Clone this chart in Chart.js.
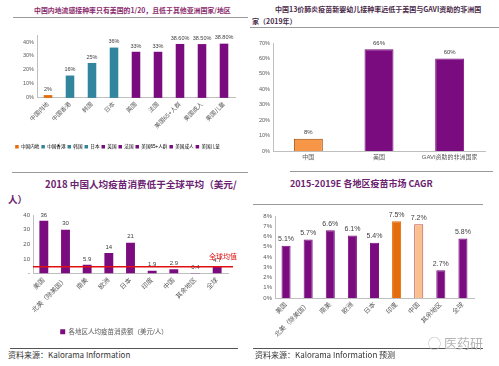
<!DOCTYPE html>
<html>
<head>
<meta charset="utf-8">
<script src="https://cdn.jsdelivr.net/npm/chart.js@4"></script>
<style>
  body { margin: 0; background: #fff; }
  #wrap { position: relative; width: 499px; height: 366px; overflow: hidden; font-family: 'Noto Sans CJK SC', sans-serif; }
  .abs { position: absolute; white-space: nowrap; }
  .hl { position: absolute; height: 1px; background: #9a9a9a; }
  canvas { position: absolute; }
</style>
</head>
<body>
<div id="wrap">
  <!-- top left -->
  <div class="abs" style="left:34px;top:5px;font-size:6.9px;font-weight:bold;color:#8a2b6c;">中国内地流感接种率只有美国的1/20，且低于其他亚洲国家/地区</div>
  <div class="hl" style="left:13px;top:17px;width:235px;"></div>
  <canvas id="c1" width="248" height="134" style="left:0;top:25px"></canvas>
  <div class="hl" style="left:12px;top:172px;width:236px;"></div>

  <!-- top right -->
  <div class="abs" style="left:275px;top:4px;font-size:7px;font-weight:bold;color:#4a2b4a;">中国13价肺炎疫苗新婴幼儿接种率远低于美国与GAVI资助的非洲国</div>
  <div class="abs" style="left:252px;top:16px;font-size:7px;font-weight:bold;color:#4a2b4a;">家（2019年）</div>
  <div class="hl" style="left:250px;top:27px;width:249px;"></div>
  <canvas id="c2" width="249" height="135" style="left:250px;top:32px"></canvas>
  <div class="hl" style="left:290px;top:171px;width:203px;"></div>

  <!-- bottom left -->
  <div class="abs" style="left:45px;top:177px;font-size:9.6px;font-weight:bold;color:#6b2270;">2018 中国人均疫苗消费低于全球平均（美元/</div>
  <div class="abs" style="left:8px;top:192px;font-size:9.6px;font-weight:bold;color:#6b2270;">人）</div>
  <canvas id="c3" width="248" height="140" style="left:0;top:205px"></canvas>
  <div class="hl" style="left:10px;top:348px;width:228px;background:#555;"></div>
  <div class="abs" style="left:8px;top:349px;font-size:8px;color:#333;">资料来源：Kalorama Information</div>

  <!-- bottom right -->
  <div class="abs" style="left:290px;top:177px;font-size:9px;font-weight:bold;color:#6b2270;">2015-2019E 各地区疫苗市场 CAGR</div>
  <div class="hl" style="left:253px;top:204px;width:230px;"></div>
  <canvas id="c4" width="249" height="140" style="left:250px;top:205px"></canvas>
  <div class="hl" style="left:253px;top:348px;width:230px;background:#555;"></div>
  <div class="abs" style="left:255px;top:349px;font-size:8px;color:#333;">资料来源：Kalorama Information 预测</div>
  <div class="abs" style="left:428px;top:333px;font-size:13px;color:#b5b5b5;">&#9711; 医药研</div>
</div>

<script>
// top left: flu vaccination rate
var catsTL = ['中国内地', '中国香港', '韩国', '日本', '英国', '法国', '美国65+人群', '美国成人', '美国儿童'];
var valsTL = [2, 16, 25, 36, 33, 33, 38.6, 38.5, 38.8];

// top right: PCV13 infant rate, 2019
var catsTR = ['中国', '美国', 'GAVI资助的非洲国家'];
var valsTR = [8, 66, 60];

// bottom left: vaccine spend per capita 2018 (USD)
var catsBL = ['美国', '北美（除美国）', '南美', '欧洲', '日本', '印度', '中国', '其余地区', '全球'];
var valsBL = [36, 30, 5.9, 14, 21, 1.9, 2.9, 0.4, 4.7];
var globalAvg = 4.7;

// bottom right: 2015-2019E CAGR
var catsBR = ['美国', '北美（除美国）', '南美', '欧洲', '日本', '印度', '中国', '其余地区', '全球'];
var valsBR = [5.1, 5.7, 6.6, 6.1, 5.4, 7.5, 7.2, 2.7, 5.8];

var PURPLE = '#7b0c7f', TEAL = '#31859c', ORANGE = '#e46c0a';
var FONT = "'Liberation Sans', 'Noto Sans CJK SC', sans-serif";

Chart.defaults.font.family = FONT;
Chart.defaults.color = '#595959';
Chart.defaults.animation = false;

var colorsTL = [ORANGE, TEAL, TEAL, TEAL, PURPLE, PURPLE, PURPLE, PURPLE, PURPLE];

function valueLabels(fmt, size, color) {
  return {
    id: 'valueLabels',
    afterDatasetsDraw: function (chart) {
      var ctx = chart.ctx;
      var meta = chart.getDatasetMeta(0);
      var data = chart.data.datasets[0].data;
      ctx.save();
      ctx.font = size + 'px ' + FONT;
      ctx.fillStyle = color || '#404040';
      ctx.textAlign = 'center';
      ctx.textBaseline = 'bottom';
      meta.data.forEach(function (bar, i) {
        ctx.fillText(fmt(data[i]), bar.x, bar.y - 3);
      });
      ctx.restore();
    }
  };
}

function yAxis(max, step, width, cb, size) {
  return {
    min: 0, max: max,
    afterFit: function (s) { s.width = width; },
    grid: { display: false, drawTicks: false },
    border: { display: true, color: '#bfbfbf' },
    ticks: { stepSize: step, padding: 3, font: { size: size || 6 }, callback: cb }
  };
}

function xAxis(height, rot, size) {
  return {
    afterFit: function (s) { s.height = height; },
    grid: { display: false, drawTicks: false },
    border: { display: true, color: '#bfbfbf' },
    ticks: { autoSkip: false, minRotation: rot, maxRotation: rot, padding: 3, font: { size: size || 6 } }
  };
}

// chart 1
new Chart(document.getElementById('c1'), {
  type: 'bar',
  data: {
    labels: catsTL,
    datasets: [{ data: valsTL, backgroundColor: colorsTL, barPercentage: 0.39, categoryPercentage: 1 }]
  },
  options: {
    responsive: false,
    devicePixelRatio: 1,
    layout: { padding: { top: 10, right: 13 } },
    scales: {
      x: xAxis(44.5, 45, 6),
      y: yAxis(45, 5, 37, function (v) { return v + '%'; }, 5.5)
    },
    plugins: {
      tooltip: { enabled: false },
      legend: {
        position: 'bottom',
        onClick: null,
        labels: {
          boxWidth: 3.5, boxHeight: 3.5, padding: 2,
          font: { size: 4.6 },
          generateLabels: function (chart) {
            return chart.data.labels.map(function (l, i) {
              return { text: l, fillStyle: colorsTL[i], strokeStyle: colorsTL[i], lineWidth: 0, hidden: false, index: i };
            });
          }
        }
      }
    }
  },
  plugins: [valueLabels(function (v) { return Number.isInteger(v) ? v + '%' : v.toFixed(2) + '%'; }, 5.5)]
});

// chart 2
new Chart(document.getElementById('c2'), {
  type: 'bar',
  data: {
    labels: catsTR,
    datasets: [{
      data: valsTR,
      backgroundColor: ['#f79646', PURPLE, PURPLE],
      borderColor: ['#984807', PURPLE, PURPLE],
      borderWidth: 1,
      barPercentage: 0.41, categoryPercentage: 1
    }]
  },
  options: {
    responsive: false,
    devicePixelRatio: 1,
    layout: { padding: { top: 11, right: 14 } },
    scales: {
      x: xAxis(16, 0, 6),
      y: yAxis(70, 10, 23, function (v) { return v + '%'; }, 5.5)
    },
    plugins: { tooltip: { enabled: false }, legend: { display: false } }
  },
  plugins: [valueLabels(function (v) { return v + '%'; }, 6)]
});

// chart 3
var avgLine = {
  id: 'avgLine',
  afterDatasetsDraw: function (chart) {
    var ctx = chart.ctx, a = chart.chartArea;
    var y = chart.scales.y.getPixelForValue(globalAvg);
    ctx.save();
    ctx.strokeStyle = '#e01010';
    ctx.lineWidth = 1.5;
    ctx.beginPath();
    ctx.moveTo(a.left, y);
    ctx.lineTo(a.right + 5, y);
    ctx.stroke();
    ctx.fillStyle = '#e01010';
    ctx.font = '7px ' + FONT;
    ctx.textAlign = 'right';
    ctx.textBaseline = 'bottom';
    ctx.fillText('全球均值', a.right + 9, y - 6);
    ctx.restore();
  }
};

new Chart(document.getElementById('c3'), {
  type: 'bar',
  data: {
    labels: catsBL,
    datasets: [{
      label: '各地区人均疫苗消费额（美元/人）',
      data: valsBL, backgroundColor: PURPLE,
      barPercentage: 0.41, categoryPercentage: 1
    }]
  },
  options: {
    responsive: false,
    devicePixelRatio: 1,
    layout: { padding: { top: 10, right: 20 } },
    scales: {
      x: xAxis(52, 45, 6.5),
      y: yAxis(40, 5, 33, function (v) { return v === 0 ? '-' : v; }, 6)
    },
    plugins: {
      tooltip: { enabled: false },
      legend: {
        position: 'bottom',
        onClick: null,
        labels: { boxWidth: 5, boxHeight: 5, padding: 3, font: { size: 6.5 } }
      }
    }
  },
  plugins: [valueLabels(function (v) { return String(v); }, 6), avgLine]
});

// chart 4
var colorsBR = [PURPLE, PURPLE, PURPLE, PURPLE, PURPLE, ORANGE, '#fac090', PURPLE, PURPLE];
new Chart(document.getElementById('c4'), {
  type: 'bar',
  data: {
    labels: catsBR,
    datasets: [{
      data: valsBR,
      backgroundColor: colorsBR,
      borderColor: colorsBR.map(function (c) { return c === '#fac090' ? '#c0504d' : c; }),
      borderWidth: 1,
      barPercentage: 0.41, categoryPercentage: 1
    }]
  },
  options: {
    responsive: false,
    devicePixelRatio: 1,
    layout: { padding: { top: 11, right: 25 } },
    scales: {
      x: xAxis(47, 45, 6.5),
      y: yAxis(8, 1, 25, function (v) { return v + '%'; }, 6)
    },
    plugins: { tooltip: { enabled: false }, legend: { display: false } }
  },
  plugins: [valueLabels(function (v) { return v.toFixed(1) + '%'; }, 7)]
});
</script>
</body>
</html>
